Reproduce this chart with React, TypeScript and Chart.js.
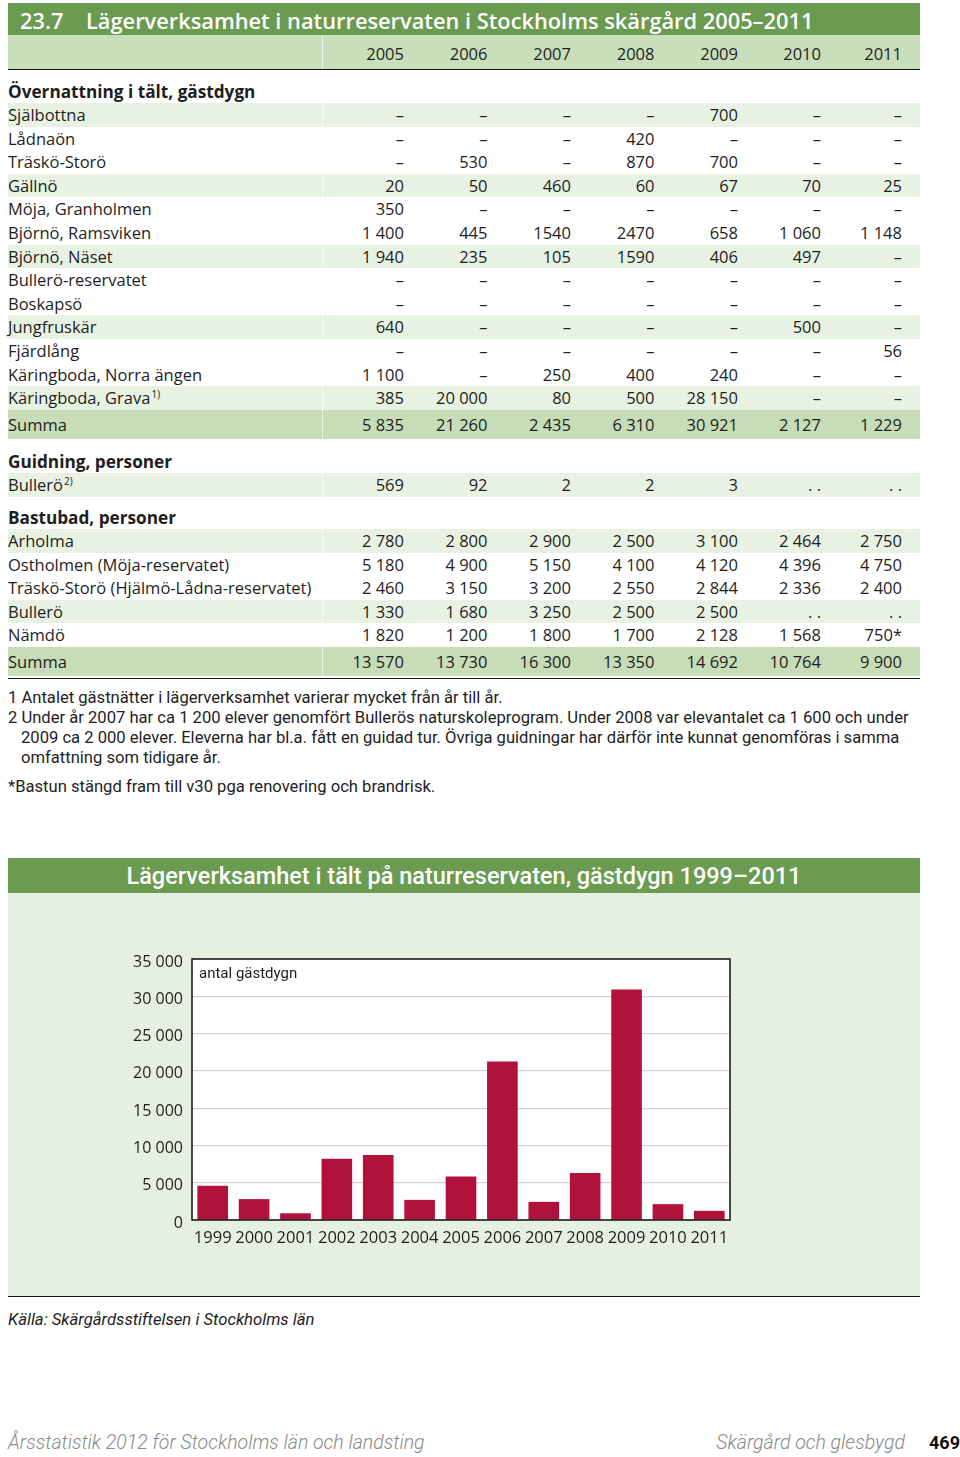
import React, { useEffect, useRef } from "react";
import { Chart, registerables } from "chart.js";

Chart.register(...registerables);

// ---------- DATA ----------
const D = "–";
const tableYears = ["2005", "2006", "2007", "2008", "2009", "2010", "2011"];

const tentLabels = [
  "Själbottna",
  "Lådnaön",
  "Träskö-Storö",
  "Gällnö",
  "Möja, Granholmen",
  "Björnö, Ramsviken",
  "Björnö, Näset",
  "Bullerö-reservatet",
  "Boskapsö",
  "Jungfruskär",
  "Fjärdlång",
  "Käringboda, Norra ängen",
  "Käringboda, Grava",
];
const tentSup = ["", "", "", "", "", "", "", "", "", "", "", "", "1)"];
const tentValues = [
  [D, D, D, D, "700", D, D],
  [D, D, D, "420", D, D, D],
  [D, "530", D, "870", "700", D, D],
  ["20", "50", "460", "60", "67", "70", "25"],
  ["350", D, D, D, D, D, D],
  ["1 400", "445", "1540", "2470", "658", "1 060", "1 148"],
  ["1 940", "235", "105", "1590", "406", "497", D],
  [D, D, D, D, D, D, D],
  [D, D, D, D, D, D, D],
  ["640", D, D, D, D, "500", D],
  [D, D, D, D, D, D, "56"],
  ["1 100", D, "250", "400", "240", D, D],
  ["385", "20 000", "80", "500", "28 150", D, D],
];
const tentSum = ["5 835", "21 260", "2 435", "6 310", "30 921", "2 127", "1 229"];

const guideLabels = ["Bullerö"];
const guideSup = ["2)"];
const guideValues = [["569", "92", "2", "2", "3", ". .", ". ."]];

const saunaLabels = [
  "Arholma",
  "Ostholmen (Möja-reservatet)",
  "Träskö-Storö (Hjälmö-Lådna-reservatet)",
  "Bullerö",
  "Nämdö",
];
const saunaValues = [
  ["2 780", "2 800", "2 900", "2 500", "3 100", "2 464", "2 750"],
  ["5 180", "4 900", "5 150", "4 100", "4 120", "4 396", "4 750"],
  ["2 460", "3 150", "3 200", "2 550", "2 844", "2 336", "2 400"],
  ["1 330", "1 680", "3 250", "2 500", "2 500", ". .", ". ."],
  ["1 820", "1 200", "1 800", "1 700", "2 128", "1 568", "750*"],
];
const saunaSum = ["13 570", "13 730", "16 300", "13 350", "14 692", "10 764", "9 900"];

const chartYears = ["1999", "2000", "2001", "2002", "2003", "2004", "2005", "2006", "2007", "2008", "2009", "2010", "2011"];
const tentNights = [4600, 2800, 900, 8200, 8700, 2700, 5835, 21260, 2435, 6310, 30921, 2127, 1229];
const yMin = 0;
const yMax = 35000;
const yStep = 5000;

// ---------- STYLE ----------
const FONT = '"Open Sans", "Noto Sans", sans-serif';
const COND = 'Roboto, "Noto Sans", sans-serif';
const DARK_GREEN = "#6a9b50";
const HEAD_GREEN = "#c9dfbb";
const SUM_GREEN = "#c6ddb8";
const ZEBRA = "#e8f2e3";
const PANEL = "#e6f0e1";
const BAR = "#b1123b";
const TEXT = "#1e1e1e";
const RIGHTS = [404, 487.5, 571, 654.5, 738, 821, 902];
const ROW_H = 23.6;

function fmt(v: number) {
  return String(v).replace(/\B(?=(\d{3})+(?!\d))/g, "\u00a0");
}

function Row(props: {
  top: number;
  height: number;
  bg?: string;
  label: string;
  sup?: string;
  values?: string[];
  bold?: boolean;
}) {
  const { top, height, bg, label, sup, values, bold } = props;
  return (
    <div style={{ position: "absolute", left: 8, top, width: 912, height, background: bg || "transparent" }}>
      {bg ? (
        <div style={{ position: "absolute", left: 314, top: 0, width: 1, height, background: "rgba(255,255,255,0.6)" }} />
      ) : null}
      <div
        style={{
          position: "absolute",
          left: 0,
          top: 0,
          lineHeight: height + "px",
          whiteSpace: "nowrap",
          fontWeight: bold ? 700 : 400,
          fontSize: bold ? 17.2 : undefined,
        }}
      >
        {label}
        {sup ? <sup style={{ fontSize: 10, lineHeight: 0, verticalAlign: "6px", marginLeft: 1 }}>{sup}</sup> : null}
      </div>
      {(values || []).map((v, i) => (
        <div
          key={i}
          style={{
            position: "absolute",
            left: RIGHTS[i] - 8 - 90,
            width: 90,
            top: 0,
            textAlign: "right",
            lineHeight: height + "px",
            whiteSpace: "nowrap",
          }}
        >
          {v}
        </div>
      ))}
    </div>
  );
}

const areaPlugin = {
  id: "areaPlugin",
  beforeDraw(chart: any) {
    const { ctx, chartArea } = chart;
    ctx.save();
    ctx.fillStyle = "#ffffff";
    ctx.fillRect(chartArea.left, chartArea.top, chartArea.right - chartArea.left, chartArea.bottom - chartArea.top);
    ctx.restore();
  },
  afterDatasetsDraw(chart: any) {
    const { ctx, chartArea } = chart;
    ctx.save();
    ctx.strokeStyle = "#111111";
    ctx.lineWidth = 1.5;
    ctx.strokeRect(chartArea.left, chartArea.top, chartArea.right - chartArea.left, chartArea.bottom - chartArea.top);
    ctx.restore();
  },
};

function BarChart() {
  const ref = useRef<HTMLCanvasElement | null>(null);
  useEffect(() => {
    if (!ref.current) return;
    const chart = new Chart(ref.current, {
      type: "bar",
      data: {
        labels: chartYears,
        datasets: [
          {
            data: tentNights,
            backgroundColor: BAR,
            borderWidth: 0,
            categoryPercentage: 1,
            barPercentage: 0.74,
          },
        ],
      },
      options: {
        animation: false,
        responsive: false,
        maintainAspectRatio: false,
        devicePixelRatio: 1,
        layout: { padding: { top: 66, right: 190, bottom: 46, left: 0 } },
        plugins: { legend: { display: false }, tooltip: { enabled: false }, title: { display: false } },
        scales: {
          x: {
            grid: { display: false, drawTicks: false },
            border: { display: false },
            ticks: {
              color: TEXT,
              font: { family: FONT, size: 16.5 },
              padding: 8,
              maxRotation: 0,
              autoSkip: false,
            },
            afterFit: (s: any) => {
              s.height = 30;
            },
          },
          y: {
            min: yMin,
            max: yMax,
            grid: { color: "#d2d2d2", lineWidth: 1.2, drawTicks: false },
            border: { display: false },
            ticks: {
              stepSize: yStep,
              padding: 9,
              labelOffset: 3,
              color: TEXT,
              font: { family: FONT, size: 16 },
              callback: (v: any) => fmt(Number(v)),
            },
            afterFit: (s: any) => {
              s.width = 184;
            },
          },
        },
      } as any,
      plugins: [areaPlugin],
    });
    return () => chart.destroy();
  }, []);
  return <canvas ref={ref} width={912} height={403} style={{ position: "absolute", left: 8, top: 893 }} />;
}

export default function App() {
  const tentTop = 103;
  const tentRows = tentLabels.map((l, i) => ({
    label: l,
    sup: tentSup[i],
    values: tentValues[i],
    top: tentTop + i * ROW_H,
    bg: i % 3 === 0 ? ZEBRA : undefined,
  }));
  const sumTop1 = tentTop + tentLabels.length * ROW_H;
  const saunaTop = 529;
  const saunaRows = saunaLabels.map((l, i) => ({
    label: l,
    values: saunaValues[i],
    top: saunaTop + i * ROW_H,
    bg: i % 3 === 0 ? ZEBRA : undefined,
  }));
  const sumTop2 = saunaTop + saunaLabels.length * ROW_H;

  const note = (text: string, left: number, cy: number, extra?: any) => (
    <div
      style={{
        position: "absolute",
        left,
        top: cy - 10,
        lineHeight: "20px",
        fontFamily: COND,
        fontSize: 16.6,
        whiteSpace: "nowrap",
        color: TEXT,
        ...(extra || {}),
      }}
    >
      {text}
    </div>
  );

  return (
    <div
      style={{
        position: "absolute",
        left: 0,
        top: 0,
        width: 960,
        height: 1457,
        background: "#ffffff",
        color: TEXT,
        fontFamily: FONT,
        fontSize: 16.5,
        overflow: "hidden",
      }}
    >
      {/* Table title */}
      <div style={{ position: "absolute", left: 8, top: 3, width: 912, height: 32, background: DARK_GREEN }}>
        <div
          style={{
            position: "absolute",
            left: 12,
            top: 0,
            lineHeight: "36px",
            color: "#ffffff",
            fontSize: 21.8,
            fontWeight: 600,
            whiteSpace: "nowrap",
          }}
        >
          23.7
        </div>
        <div
          style={{
            position: "absolute",
            left: 78,
            top: 0,
            lineHeight: "36px",
            color: "#ffffff",
            fontSize: 21.8,
            fontWeight: 600,
            whiteSpace: "nowrap",
          }}
        >
          Lägerverksamhet i naturreservaten i Stockholms skärgård 2005–2011
        </div>
      </div>
      {/* Column header */}
      <div
        style={{
          position: "absolute",
          left: 8,
          top: 35,
          width: 912,
          height: 34,
          background: HEAD_GREEN,
          borderBottom: "1.5px solid #111",
        }}
      >
        <div style={{ position: "absolute", left: 314, top: 0, width: 1, height: 34, background: "rgba(255,255,255,0.6)" }} />
        {tableYears.map((y, i) => (
          <div
            key={y}
            style={{
              position: "absolute",
              left: RIGHTS[i] - 8 - 90,
              width: 90,
              top: 7,
              textAlign: "right",
              lineHeight: "24px",
            }}
          >
            {y}
          </div>
        ))}
      </div>

      <Row top={80} height={23} label="Övernattning i tält, gästdygn" bold />
      {tentRows.map((r, i) => (
        <Row key={"t" + i} top={r.top} height={ROW_H} bg={r.bg} label={r.label} sup={r.sup} values={r.values} />
      ))}
      <Row top={sumTop1} height={29} bg={SUM_GREEN} label="Summa" values={tentSum} />

      <Row top={450} height={23} label="Guidning, personer" bold />
      {guideLabels.map((l, i) => (
        <Row key={"g" + i} top={473} height={ROW_H} bg={ZEBRA} label={l} sup={guideSup[i]} values={guideValues[i]} />
      ))}

      <Row top={506} height={23} label="Bastubad, personer" bold />
      {saunaRows.map((r, i) => (
        <Row key={"s" + i} top={r.top} height={ROW_H} bg={r.bg} label={r.label} values={r.values} />
      ))}
      <div style={{ position: "absolute", left: 8, top: sumTop2, width: 912, height: 31, borderBottom: "1.5px solid #111" }} />
      <Row top={sumTop2} height={29} bg={SUM_GREEN} label="Summa" values={saunaSum} />

      {/* Footnotes */}
      {note("1 Antalet gästnätter i lägerverksamhet varierar mycket från år till år.", 8, 698)}
      {note(
        "2 Under år 2007 har ca 1 200 elever genomfört Bullerös naturskoleprogram. Under 2008 var elevantalet ca 1 600 och under",
        8,
        718
      )}
      {note(
        "2009 ca 2 000 elever. Eleverna har bl.a. fått en guidad tur. Övriga guidningar har därför inte kunnat genomföras i samma",
        21,
        738
      )}
      {note("omfattning som tidigare år.", 21, 758)}
      {note("*Bastun stängd fram till v30 pga renovering och brandrisk.", 8, 787)}

      {/* Chart block */}
      <div style={{ position: "absolute", left: 8, top: 858, width: 912, height: 35, background: DARK_GREEN }}>
        <div
          style={{
            width: "100%",
            textAlign: "center",
            lineHeight: "36px",
            color: "#ffffff",
            fontFamily: COND,
            fontSize: 23.5,
            fontWeight: 500,
            whiteSpace: "nowrap",
          }}
        >
          Lägerverksamhet i tält på naturreservaten, gästdygn 1999–2011
        </div>
      </div>
      <div
        style={{
          position: "absolute",
          left: 8,
          top: 893,
          width: 912,
          height: 403,
          background: PANEL,
          borderBottom: "1.5px solid #111",
        }}
      />
      <BarChart />
      <div
        style={{
          position: "absolute",
          left: 199,
          top: 962,
          lineHeight: "22px",
          fontFamily: COND,
          fontSize: 15,
          whiteSpace: "nowrap",
          color: TEXT,
        }}
      >
        antal gästdygn
      </div>

      {note("Källa: Skärgårdsstiftelsen i Stockholms län", 8, 1320, { fontStyle: "italic", fontSize: 16.7 })}

      {/* Page footer */}
      <div
        style={{
          position: "absolute",
          left: 8,
          top: 1431,
          lineHeight: "24px",
          fontFamily: COND,
          fontSize: 19.5,
          fontStyle: "italic",
          fontWeight: 300,
          color: "#8a8a8a",
          whiteSpace: "nowrap",
        }}
      >
        Årsstatistik 2012 för Stockholms län och landsting
      </div>
      <div
        style={{
          position: "absolute",
          left: 600,
          width: 305,
          textAlign: "right",
          top: 1431,
          lineHeight: "24px",
          fontFamily: COND,
          fontSize: 19.5,
          fontStyle: "italic",
          fontWeight: 300,
          color: "#8a8a8a",
          whiteSpace: "nowrap",
        }}
      >
        Skärgård och glesbygd
      </div>
      <div
        style={{
          position: "absolute",
          left: 929,
          top: 1431,
          lineHeight: "24px",
          fontFamily: COND,
          fontSize: 18,
          fontWeight: 700,
          color: "#111",
          whiteSpace: "nowrap",
        }}
      >
        469
      </div>
    </div>
  );
}
